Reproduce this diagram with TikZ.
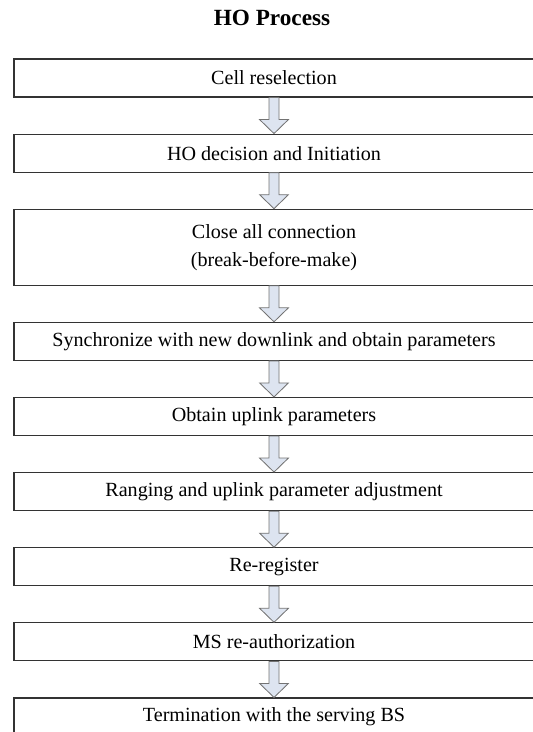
\documentclass[tikz,border=0pt]{standalone}
\usepackage{fontspec}
\setmainfont{Liberation Serif}
\usetikzlibrary{positioning,calc}
\definecolor{arrowfill}{RGB}{221,228,240}
\begin{document}
\begin{tikzpicture}[
 node distance=0.9cm,
 stage/.style={draw=black!80,line width=0.8pt,minimum width=13cm,minimum height=0.95cm,
  inner sep=0pt,align=center,font=\fontsize{14.3}{20}\selectfont},
 hoarrow/.style={draw=black!55,fill=arrowfill,line width=0.6pt,line join=miter}
]
 \useasboundingbox (0,0) rectangle (13.3,-18.3);
 \node[font=\bfseries\fontsize{16.5}{19}\selectfont] (title) at (6.8,-0.44) {HO Process};
 \node[stage] (b1) at (6.85,-1.95) {Cell reselection};
 \node[stage,below=of b1] (b2) {HO decision and Initiation};
 \node[stage,below=of b2,minimum height=1.9cm] (b3) {Close all connection\\(break-before-make)};
 \node[stage,below=of b3] (b4) {Synchronize with new downlink and obtain parameters};
 \node[stage,below=of b4] (b5) {Obtain uplink parameters};
 \node[stage,below=of b5] (b6) {Ranging and uplink parameter adjustment};
 \node[stage,below=of b6] (b7) {Re-register};
 \node[stage,below=of b7] (b8) {MS re-authorization};
 \node[stage,below=of b8] (b9) {Termination with the serving BS};
 % block arrows between stages
 \foreach \a/\b in {b1/b2,b2/b3,b3/b4,b4/b5,b5/b6,b6/b7,b7/b8,b8/b9}
 \draw[hoarrow] let \p1=(\a.south),\p2=(\b.north) in
  (\x1-0.125cm,\y1) -- (\x1+0.125cm,\y1) -- (\x1+0.125cm,\y2+0.35cm) -- (\x1+0.36cm,\y2+0.35cm)
  -- (\x1,\y2) -- (\x1-0.36cm,\y2+0.35cm) -- (\x1-0.125cm,\y2+0.35cm) -- cycle;
\end{tikzpicture}
\end{document}
